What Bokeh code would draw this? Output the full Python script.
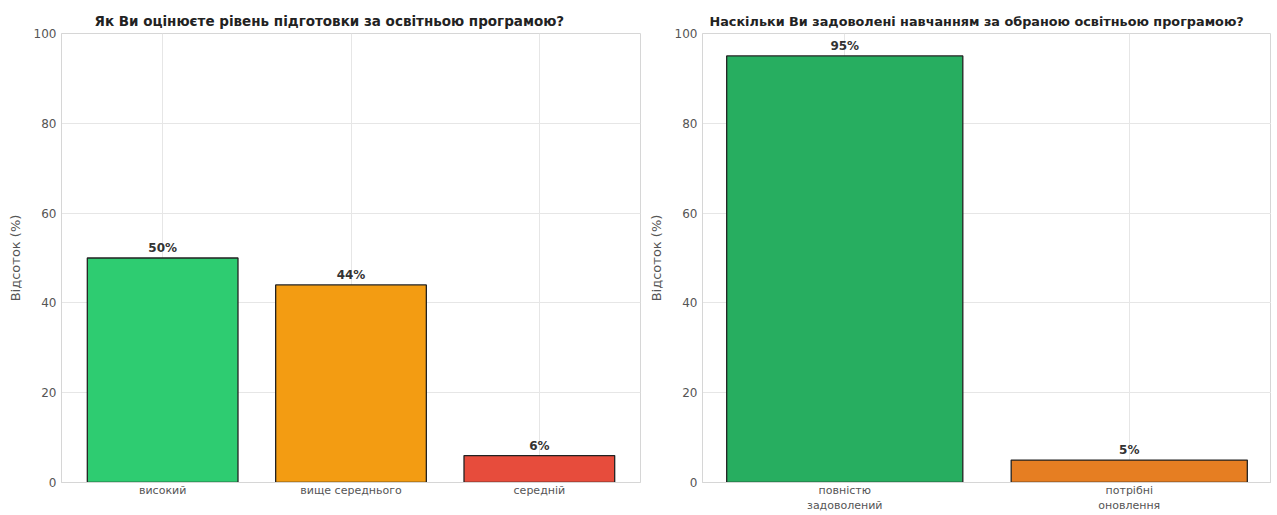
from bokeh.plotting import figure
from bokeh.layouts import row
from bokeh.models import ColumnDataSource, FactorRange
from bokeh.embed import file_html
from bokeh.resources import INLINE
from bokeh.core.properties import value

# ---- data ----
left_title = "Як Ви оцінюєте рівень підготовки за освітньою програмою?"
left_cats = ["високий", "вище середнього", "середній"]
left_vals = [50, 44, 6]
left_colors = ["#2ecc71", "#f39c12", "#e74c3c"]

right_title = "Наскільки Ви задоволені навчанням за обраною освітньою програмою?"
right_cats = ["повністю\nзадоволений", "потрібні\nоновлення"]
right_vals = [95, 5]
right_colors = ["#27ae60", "#e67e22"]

y_label = "Відсоток (%)"
y_ticks = [0, 20, 40, 60, 80, 100]

FONT = "DejaVu Sans"
GRID = "#e6e6e6"
SPINE = "#d6d6d6"


def make(title, cats, vals, colors, width, bl, br, pad, bar_w, toff, tsize):
    src = ColumnDataSource(dict(x=cats, top=vals, color=colors,
                                lab=[f"{v}%" for v in vals]))
    xr = FactorRange(factors=cats, range_padding=pad, range_padding_units="percent")
    p = figure(x_range=xr, y_range=(0, 100), width=width, height=515,
               output_backend="svg", toolbar_location=None,
               min_border_left=bl, min_border_right=br,
               min_border_top=33, min_border_bottom=28)
    p.title.text = title
    p.title.text_font = FONT
    p.title.text_font_size = tsize
    p.title.text_font_style = "bold"
    p.title.text_color = "#222222"
    p.title.align = "left"
    p.title.offset = toff
    p.title.standoff = 10
    p.vbar(x="x", top="top", width=bar_w, source=src, fill_color="color",
           line_color="#222222", line_width=1.3)
    p.text(x="x", y="top", text="lab", source=src, text_align="center",
           text_baseline="bottom", y_offset=-3, text_font=value(FONT),
           text_font_size="12px", text_font_style="bold", text_color="#333333")
    p.yaxis.ticker = y_ticks
    p.yaxis.axis_label = y_label
    for ax in (p.xaxis, p.yaxis):
        ax.major_label_text_font = FONT
        ax.major_label_text_color = "#555555"
        ax.major_tick_line_color = None
        ax.minor_tick_line_color = None
        ax.major_tick_out = 0
        ax.major_tick_in = 0
        ax.axis_line_color = SPINE
    p.xaxis.major_label_text_font_size = "11px"
    p.yaxis.major_label_text_font_size = "12px"
    p.xaxis.major_label_standoff = 1
    p.yaxis.major_label_standoff = 5
    p.yaxis.axis_label_text_font = FONT
    p.yaxis.axis_label_text_font_size = "13px"
    p.yaxis.axis_label_text_font_style = "normal"
    p.yaxis.axis_label_text_color = "#555555"
    p.yaxis.axis_label_standoff = 8
    p.xgrid.grid_line_color = GRID
    p.ygrid.grid_line_color = GRID
    p.outline_line_color = SPINE
    p.background_fill_color = "white"
    p.border_fill_color = "white"
    return p


p1 = make(left_title, left_cats, left_vals, left_colors, 645, 61, 5, 0.0247, 0.8, 33, "13.5px")
p2 = make(right_title, right_cats, right_vals, right_colors, 626, 57, 0, 0.0, 0.83, 7, "12.8px")

layout = row(p1, p2)
open("out.html", "w").write(file_html(layout, INLINE))
